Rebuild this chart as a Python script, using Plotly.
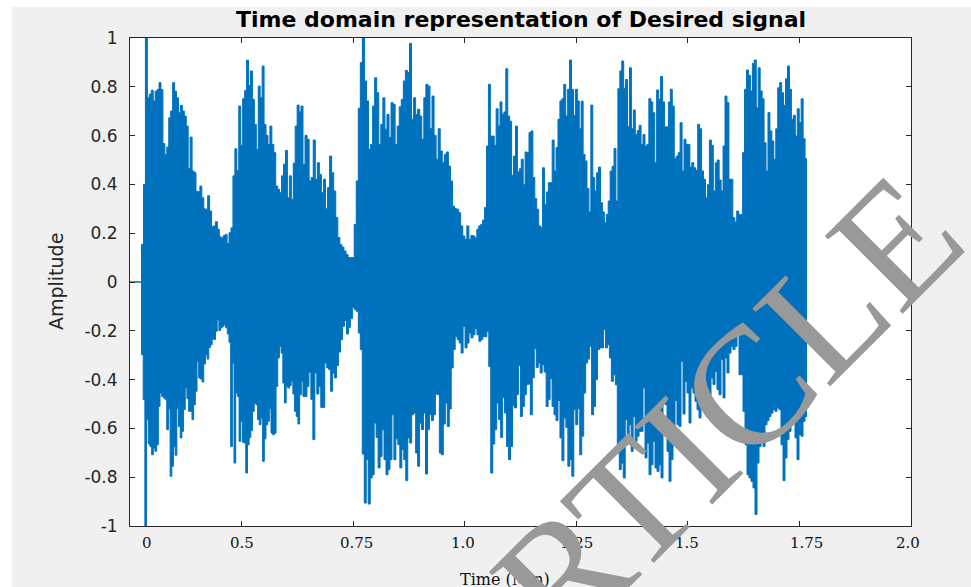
import numpy as np
import plotly.graph_objects as go

# ---- data (amplitude envelope of the signal) ----
SEG_BOUNDS = [0.0258, 0.3876, 0.7685, 1.1495, 1.5170]   # time (axis units) of segment edges

UPPER_1 = [0.154, 0.40, 1.0, 0.755, 0.77, 0.786, 0.742, 0.782, 0.789, 0.817, 0.789, 0.567, 0.523, 0.553,
           0.673, 0.701, 0.817, 0.782, 0.755, 0.694, 0.724, 0.701, 0.68, 0.639, 0.464, 0.594, 0.455, 0.448,
           0.372, 0.37, 0.393, 0.345, 0.30, 0.298, 0.353, 0.291, 0.226, 0.23, 0.247, 0.216, 0.185, 0.18,
           0.19, 0.195, 0.158, 0.202, 0.222, 0.435, 0.546, 0.457, 0.721, 0.56, 0.751, 0.785, 0.909, 0.806,
           0.865, 0.749, 0.646, 0.544, 0.803, 0.755, 0.885, 0.646, 0.601, 0.564, 0.639, 0.564, 0.53, 0.393,
           0.38, 0.366, 0.435, 0.483, 0.539, 0.345, 0.435, 0.338, 0.487, 0.639, 0.725, 0.697, 0.721]
UPPER_2 = [0.482, 0.601, 0.585, 0.414, 0.428, 0.582, 0.421, 0.489, 0.441, 0.366, 0.421, 0.300, 0.387,
           0.516, 0.448, 0.373, 0.264, 0.182, 0.154, 0.143, 0.127, 0.113, 0.100, 0.100, 0.100, 0.236, 0.414,
           0.712, 0.899, 1.0, 0.824, 0.742, 0.544, 0.564, 0.721, 0.837, 0.776, 0.564, 0.646, 0.755, 0.626,
           0.687, 0.592, 0.735, 0.728, 0.564, 0.639, 0.718, 0.749, 0.824, 0.867, 0.858, 0.978, 0.667, 0.755,
           0.687, 0.708, 0.680, 0.585, 0.755, 0.810, 0.803, 0.628, 0.762, 0.601, 0.503, 0.628, 0.537, 0.489,
           0.523, 0.533, 0.475, 0.414, 0.311, 0.302, 0.298, 0.284, 0.230, 0.189, 0.175, 0.230, 0.175, 0.191]
UPPER_3 = [0.189, 0.180, 0.216, 0.23, 0.236, 0.254, 0.305, 0.557, 0.810, 0.598, 0.598, 0.560, 0.710, 0.639,
           0.738, 0.687, 0.697, 0.874, 0.680, 0.659, 0.437, 0.516, 0.639, 0.451, 0.464, 0.503, 0.399, 0.533,
           0.530, 0.612, 0.619, 0.428, 0.342, 0.298, 0.230, 0.223, 0.468, 0.318, 0.369, 0.407, 0.407, 0.582,
           0.455, 0.551, 0.667, 0.742, 0.751, 0.810, 0.680, 0.790, 0.910, 0.790, 0.683, 0.790, 0.742, 0.628,
           0.741, 0.523, 0.496, 0.383, 0.287, 0.725, 0.428, 0.373, 0.448, 0.471, 0.325, 0.287, 0.243, 0.277,
           0.332, 0.455, 0.474, 0.547, 0.332, 0.792, 0.865, 0.906, 0.794, 0.830, 0.636, 0.878, 0.628, 0.705,
           0.604, 0.621, 0.642, 0.564]
UPPER_4 = [0.604, 0.557, 0.564, 0.751, 0.738, 0.694, 0.489, 0.787, 0.749, 0.842, 0.738, 0.636, 0.636,
           0.738, 0.790, 0.721, 0.505, 0.516, 0.530, 0.653, 0.455, 0.585, 0.564, 0.564, 0.471, 0.489, 0.468,
           0.457, 0.646, 0.628, 0.455, 0.421, 0.345, 0.399, 0.582, 0.560, 0.373, 0.489, 0.500, 0.418, 0.373,
           0.557, 0.762, 0.735, 0.421, 0.421, 0.264, 0.246, 0.291, 0.277, 0.277, 0.530, 0.790, 0.869, 0.847,
           0.783, 0.896, 0.910, 0.714, 0.878, 0.783, 0.751, 0.571, 0.455, 0.694, 0.619, 0.578, 0.503, 0.628,
           0.796, 0.817, 0.776, 0.724, 0.833, 0.885, 0.790, 0.667, 0.683, 0.598, 0.710, 0.653, 0.751, 0.587,
           0.505]

LOWER_1 = [-0.298, -0.482, -1.0, -0.564, -0.663, -0.674, -0.708, -0.680, -0.694, -0.667, -0.51, -0.455,
           -0.469, -0.475, -0.482, -0.605, -0.52, -0.796, -0.755, -0.674, -0.71, -0.519, -0.592, -0.639,
           -0.612, -0.523, -0.432, -0.478, -0.53, -0.53, -0.564, -0.503, -0.448, -0.325, -0.393, -0.398,
           -0.41, -0.336, -0.298, -0.316, -0.268, -0.257, -0.234, -0.236, -0.202, -0.154, -0.199, -0.188,
           -0.182, -0.175, -0.188, -0.213, -0.247, -0.674, -0.332, -0.742, -0.455, -0.469, -0.653, -0.571,
           -0.657, -0.66, -0.783, -0.667, -0.637, -0.609, -0.53, -0.496, -0.503, -0.564, -0.585, -0.557,
           -0.735, -0.643, -0.585, -0.571, -0.519, -0.619, -0.626, -0.619, -0.428, -0.311, -0.264, -0.291,
           -0.414, -0.496, -0.428, -0.434, -0.424, -0.407, -0.459, -0.53, -0.551, -0.582, -0.462, -0.407]
LOWER_2 = [-0.469, -0.469, -0.428, -0.37, -0.482, -0.646, -0.373, -0.459, -0.428, -0.514, -0.514, -0.332,
           -0.352, -0.359, -0.448, -0.373, -0.393, -0.342, -0.287, -0.236, -0.182, -0.158, -0.213, -0.186,
           -0.150, -0.104, -0.113, -0.12, -0.209, -0.277, -0.705, -0.906, -0.728, -0.91, -0.803, -0.79,
           -0.578, -0.637, -0.762, -0.715, -0.605, -0.728, -0.79, -0.769, -0.728, -0.544, -0.728, -0.642,
           -0.667, -0.762, -0.687, -0.728, -0.814, -0.639, -0.66, -0.544, -0.537, -0.701, -0.755, -0.578,
           -0.605, -0.537, -0.787, -0.605, -0.544, -0.568, -0.544, -0.459, -0.462, -0.701, -0.708, -0.582,
           -0.496, -0.592, -0.52, -0.352, -0.277, -0.223, -0.236, -0.25, -0.291, -0.182, -0.27, -0.25,
           -0.209, -0.229]
LOWER_3 = [-0.216, -0.191, -0.216, -0.243, -0.236, -0.223, -0.225, -0.202, -0.346, -0.783, -0.664, -0.605,
           -0.496, -0.564, -0.637, -0.473, -0.537, -0.674, -0.728, -0.674, -0.507, -0.516, -0.462, -0.342,
           -0.551, -0.51, -0.462, -0.421, -0.418, -0.544, -0.393, -0.273, -0.35, -0.332, -0.373, -0.339,
           -0.369, -0.51, -0.482, -0.396, -0.51, -0.544, -0.568, -0.486, -0.639, -0.732, -0.557, -0.596,
           -0.755, -0.728, -0.796, -0.523, -0.585, -0.519, -0.708, -0.632, -0.455, -0.332, -0.316, -0.264,
           -0.544, -0.51, -0.4, -0.277, -0.27, -0.27, -0.195, -0.27, -0.257, -0.311, -0.407, -0.38, -0.421,
           -0.667, -0.769, -0.742, -0.803, -0.564, -0.66, -0.585, -0.694, -0.551, -0.653, -0.632, -0.612,
           -0.612]
LOWER_4 = [-0.434, -0.721, -0.66, -0.79, -0.749, -0.653, -0.762, -0.776, -0.749, -0.803, -0.473, -0.503,
           -0.694, -0.817, -0.728, -0.66, -0.486, -0.585, -0.592, -0.325, -0.541, -0.407, -0.455, -0.578,
           -0.434, -0.455, -0.489, -0.523, -0.557, -0.503, -0.503, -0.475, -0.448, -0.503, -0.393, -0.42,
           -0.366, -0.441, -0.462, -0.318, -0.475, -0.311, -0.373, -0.291, -0.264, -0.277, -0.264, -0.188,
           -0.38, -0.38, -0.53, -0.667, -0.79, -0.803, -0.817, -0.844, -0.953, -0.742, -0.674, -0.639,
           -0.674, -0.585, -0.568, -0.551, -0.537, -0.523, -0.53, -0.516, -0.523, -0.667, -0.814, -0.721,
           -0.646, -0.612, -0.585, -0.557, -0.639, -0.728, -0.626, -0.632, -0.571, -0.551]

Y_TICKS = [-1, -0.8, -0.6, -0.4, -0.2, 0, 0.2, 0.4, 0.6, 0.8, 1]
Y_TICK_TEXT = ["-1", "-0.8", "-0.6", "-0.4", "-0.2", "0", "0.2", "0.4", "0.6", "0.8", "1"]
X_TICKS = [0, 0.25, 0.5, 0.75, 1.0, 1.25, 1.5, 1.75]
X_LABELS = ["0", "0.5", "0.75", "1.0", "1.25", "1.5", "1.75", "2.0"]
X_LABEL_POS = [0.038, 0.251, 0.507, 0.747, 1.0, 1.247, 1.516, 1.743]

BLUE = "#0072BD"
AX = "#262626"


def build(segs):
    xs, ys = [0.0], [0.0]
    for i, seg in enumerate(segs):
        t = np.linspace(SEG_BOUNDS[i], SEG_BOUNDS[i + 1], len(seg), endpoint=False)
        xs.extend(t.tolist())
        ys.extend(seg)
    xs.append(SEG_BOUNDS[-1])
    ys.append(segs[-1][-1])
    return xs, ys


xl, yl = build([LOWER_1, LOWER_2, LOWER_3, LOWER_4])
xu, yu = build([UPPER_1, UPPER_2, UPPER_3, UPPER_4])

fig = go.Figure()
fig.add_trace(go.Scatter(x=xl, y=yl, mode="lines", line=dict(color=BLUE, width=1, shape="hv"),
                         showlegend=False, hoverinfo="skip"))
fig.add_trace(go.Scatter(x=xu, y=yu, mode="lines", line=dict(color=BLUE, width=1, shape="hv"),
                         fill="tonexty", fillcolor=BLUE, showlegend=False, hoverinfo="skip"))

W, H = 971, 587
L, R, T, B = 130, 60, 38, 61
PW, PH = W - L - R, H - T - B


def px(xp):
    return (xp - L) / PW


def py(yp):
    return (H - B - yp) / PH


annotations = []
for lab, pos in zip(X_LABELS, X_LABEL_POS):
    annotations.append(dict(x=pos, y=py(543), xref="x", yref="paper", text=lab, showarrow=False,
                            xanchor="center", yanchor="middle",
                            font=dict(family="DejaVu Serif", size=15, color="#111111")))
annotations.append(dict(x=px(505), y=py(579), xref="paper", yref="paper", text="Time (Min)",
                        showarrow=False, xanchor="center", yanchor="middle",
                        font=dict(family="DejaVu Serif", size=16, color="#111111")))
annotations.append(dict(x=px(56), y=0.5, xref="paper", yref="paper", text="Amplitude", textangle=-90,
                        showarrow=False, xanchor="center", yanchor="middle",
                        font=dict(family="DejaVu Sans", size=19, color=AX)))
annotations.append(dict(x=px(521), y=py(19), xref="paper", yref="paper",
                        text="<b>Time domain representation of Desired signal</b>", showarrow=False,
                        xanchor="center", yanchor="middle",
                        font=dict(family="DejaVu Sans", size=22, color="#000000")))
# watermark
annotations.append(dict(x=px(684), y=py(452), xref="paper", yref="paper", text="ARTICLE",
                        textangle=-45, showarrow=False, xanchor="center", yanchor="middle",
                        font=dict(family="Liberation Serif", size=168, color="#999999")))

fig.update_layout(
    width=W, height=H,
    margin=dict(l=L, r=R, t=T, b=B, pad=0),
    paper_bgcolor="#f0f0f0", plot_bgcolor="white",
    annotations=annotations,
    shapes=[
        dict(type="rect", xref="paper", yref="paper", x0=px(-5), x1=px(12), y0=py(600), y1=py(-5),
             fillcolor="white", line=dict(width=0), layer="below"),
        dict(type="rect", xref="paper", yref="paper", x0=px(-5), x1=px(980), y0=py(7), y1=py(-5),
             fillcolor="white", line=dict(width=0), layer="below"),
    ],
    xaxis=dict(range=[0, 1.75], tickvals=X_TICKS, showticklabels=False, ticks="inside", ticklen=5,
               tickcolor=AX, showline=True, linecolor=AX, linewidth=1, mirror="ticks",
               showgrid=False, zeroline=False),
    yaxis=dict(range=[-1, 1], tickvals=Y_TICKS, ticktext=Y_TICK_TEXT, ticks="inside", ticklen=5,
               tickcolor=AX, showline=True, linecolor=AX, linewidth=1, mirror="ticks",
               showgrid=False, zeroline=False, ticklabelstandoff=8,
               tickfont=dict(family="DejaVu Sans", size=17, color=AX)),
)

fig.write_html("out.html")
